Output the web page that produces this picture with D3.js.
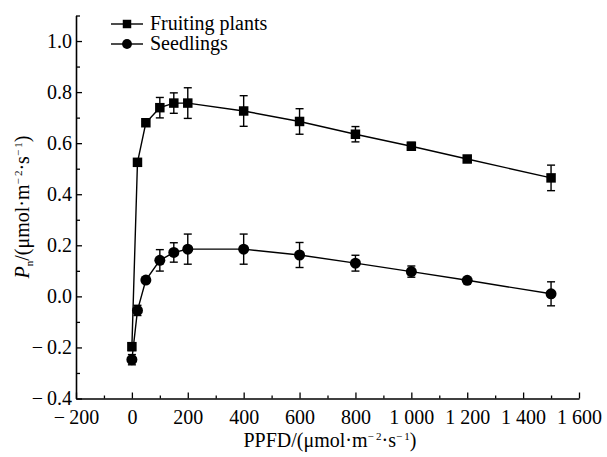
<!DOCTYPE html>
<html>
<head>
<meta charset="utf-8">
<script src="https://cdn.jsdelivr.net/npm/d3@7"></script>
<style>
body { margin: 0; background: #fff; }
</style>
</head>
<body>
<script>
var width = 607;
var height = 457;
var serif = "'Liberation Serif', 'Times New Roman', Times, 'DejaVu Serif', serif";

// data
var ppfd = [0, 20, 50, 100, 150, 200, 400, 600, 800, 1000, 1200, 1500];
var fruiting = [-0.197, 0.525, 0.68, 0.739, 0.757, 0.757, 0.726, 0.685, 0.635, 0.588, 0.538, 0.464];
var fruitingErr = [0.015, 0.005, 0.005, 0.04, 0.04, 0.06, 0.06, 0.05, 0.03, 0.015, 0.01, 0.05];
var seedlings = [-0.248, -0.055, 0.064, 0.141, 0.172, 0.185, 0.185, 0.162, 0.13, 0.097, 0.063, 0.01];
var seedlingsErr = [0.02, 0.02, 0.01, 0.042, 0.038, 0.059, 0.059, 0.049, 0.031, 0.022, 0.005, 0.047];
var seriesNames = ["Fruiting plants", "Seedlings"];
var xTicks = [-200, 0, 200, 400, 600, 800, 1000, 1200, 1400, 1600];
var yTicks = [-0.4, -0.2, 0.0, 0.2, 0.4, 0.6, 0.8, 1.0];

var svg = d3.select("body")
    .append("svg")
    .attr("width", width)
    .attr("height", height)
    .style("font-family", serif);

var x = d3.scaleLinear().domain([-200, 1600]).range([76, 579]);
var y = d3.scaleLinear().domain([-0.4, 1.1]).range([398.5, 15.5]);

function fmtX(v) {
    var s = Math.abs(v).toString();
    if (Math.abs(v) >= 1000) s = s.slice(0, s.length - 3) + " " + s.slice(-3);
    return (v < 0 ? "\u2212\u2009" : "") + s;
}
function fmtY(v) {
    return (v < -0.001 ? "\u2212\u2009" : "") + Math.abs(v).toFixed(1);
}

//Minor ticks
svg.append("g")
    .attr("transform", "translate(0," + y.range()[0] + ")")
    .call(d3.axisBottom(x).tickValues(d3.range(-100, 1600, 200)).tickSizeInner(-3).tickSizeOuter(0).tickFormat(""))
    .call(function (g) { g.select(".domain").remove(); })
    .selectAll("line").attr("stroke-width", 1.3);
svg.append("g")
    .attr("transform", "translate(" + x.range()[0] + ",0)")
    .call(d3.axisLeft(y).tickValues([-0.3, -0.1, 0.1, 0.3, 0.5, 0.7, 0.9, 1.1]).tickSizeInner(-4).tickSizeOuter(0).tickFormat(""))
    .call(function (g) { g.select(".domain").remove(); })
    .selectAll("line").attr("stroke-width", 1.3);

//X axis
var xAxis = svg.append("g")
    .attr("transform", "translate(0," + y.range()[0] + ")")
    .call(d3.axisBottom(x).tickValues(xTicks).tickSizeInner(-6).tickSizeOuter(0).tickPadding(11).tickFormat(fmtX));
xAxis.attr("font-family", serif).attr("font-size", 20);
xAxis.selectAll("text").style("font-family", serif);
xAxis.selectAll("line").attr("stroke-width", 1.3);
xAxis.select(".domain").attr("stroke-width", 1.6);

//Y axis
var yAxis = svg.append("g")
    .attr("transform", "translate(" + x.range()[0] + ",0)")
    .call(d3.axisLeft(y).tickValues(yTicks).tickSizeInner(-6).tickSizeOuter(0).tickPadding(4).tickFormat(fmtY));
yAxis.attr("font-family", serif).attr("font-size", 20);
yAxis.selectAll("text").style("font-family", serif);
yAxis.selectAll("line").attr("stroke-width", 1.3);
yAxis.select(".domain").attr("stroke-width", 1.6);

//Series
var series = [
    { name: seriesNames[0], values: fruiting, err: fruitingErr, shape: d3.symbolSquare, size: 90 },
    { name: seriesNames[1], values: seedlings, err: seedlingsErr, shape: d3.symbolCircle, size: 95 }
];

var line = d3.line()
    .x(function (d) { return x(d[0]); })
    .y(function (d) { return y(d[1]); });

series.forEach(function (s) {
    var pts = ppfd.map(function (p, i) { return [p, s.values[i], s.err[i]]; });

    svg.append("path")
        .datum(pts)
        .attr("d", line)
        .attr("fill", "none")
        .attr("stroke", "#000")
        .attr("stroke-width", 1.4);

    // error bars
    var eb = svg.append("g").selectAll("g").data(pts).enter().append("g")
        .attr("stroke", "#000")
        .attr("stroke-width", 1.4);
    eb.append("line")
        .attr("x1", function (d) { return x(d[0]); })
        .attr("x2", function (d) { return x(d[0]); })
        .attr("y1", function (d) { return y(d[1] - d[2]); })
        .attr("y2", function (d) { return y(d[1] + d[2]); });
    eb.append("line")
        .attr("x1", function (d) { return x(d[0]) - 4; })
        .attr("x2", function (d) { return x(d[0]) + 4; })
        .attr("y1", function (d) { return y(d[1] + d[2]); })
        .attr("y2", function (d) { return y(d[1] + d[2]); });
    eb.append("line")
        .attr("x1", function (d) { return x(d[0]) - 4; })
        .attr("x2", function (d) { return x(d[0]) + 4; })
        .attr("y1", function (d) { return y(d[1] - d[2]); })
        .attr("y2", function (d) { return y(d[1] - d[2]); });

    svg.append("g").selectAll("path").data(pts).enter().append("path")
        .attr("d", d3.symbol().type(s.shape).size(s.size))
        .attr("transform", function (d) { return "translate(" + x(d[0]) + "," + y(d[1]) + ")"; })
        .attr("fill", "#000");
});

//Legend
series.forEach(function (s, i) {
    var ly = 24 + i * 20;
    svg.append("line")
        .attr("x1", 111).attr("x2", 143)
        .attr("y1", ly).attr("y2", ly)
        .attr("stroke", "#000").attr("stroke-width", 1.4);
    svg.append("path")
        .attr("d", d3.symbol().type(s.shape).size(s.size * 0.8))
        .attr("transform", "translate(127," + ly + ")");
    svg.append("text")
        .attr("x", 150).attr("y", ly + 6)
        .attr("font-size", 20)
        .style("font-family", serif)
        .text(s.name);
});

//X axis title
var xt = svg.append("text")
    .attr("x", 330).attr("y", 447)
    .attr("text-anchor", "middle")
    .attr("font-size", 20)
    .style("font-family", serif);
xt.append("tspan").text("PPFD/(\u03bcmol\u00b7m");
xt.append("tspan").attr("font-size", 11).attr("dy", -7).text("\u2212\u20092");
xt.append("tspan").attr("dy", 7).text("\u00b7s");
xt.append("tspan").attr("font-size", 11).attr("dy", -7).text("\u2212\u20091");
xt.append("tspan").attr("dy", 7).text(")");

//Y axis title
var yt = svg.append("text")
    .attr("transform", "translate(29,207) rotate(-90)")
    .attr("text-anchor", "middle")
    .attr("font-size", 20)
    .style("font-family", serif);
yt.append("tspan").attr("font-style", "italic").text("P");
yt.append("tspan").attr("font-size", 11).attr("dy", 4).text("n");
yt.append("tspan").attr("dy", -4).text("/(\u03bcmol\u00b7m");
yt.append("tspan").attr("font-size", 11).attr("dy", -7).text("\u2212\u20092");
yt.append("tspan").attr("dy", 7).text("\u00b7s");
yt.append("tspan").attr("font-size", 11).attr("dy", -7).text("\u2212\u20091");
yt.append("tspan").attr("dy", 7).text(")");
</script>
</body>
</html>
